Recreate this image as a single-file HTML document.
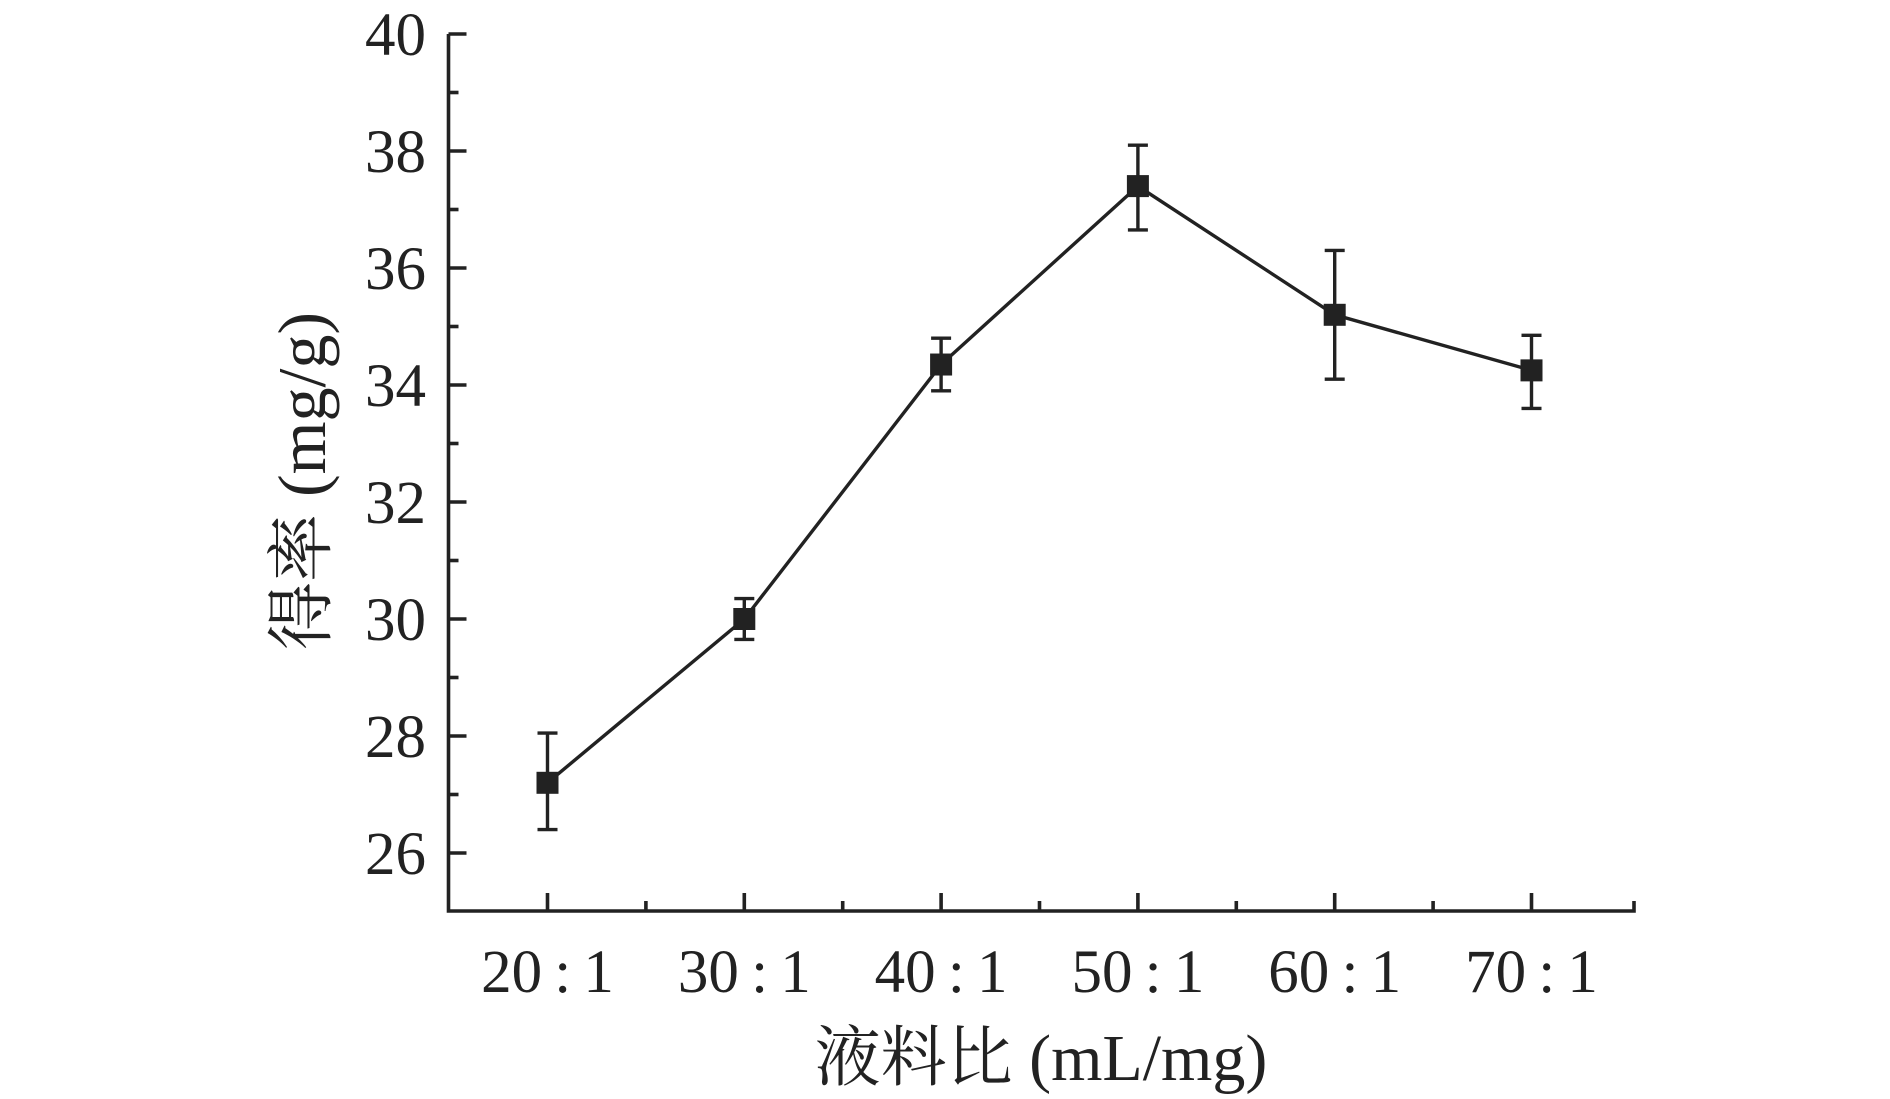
<!DOCTYPE html>
<html><head><meta charset="utf-8"><style>
html,body{margin:0;padding:0;background:#fff;}
svg text{font-family:"Liberation Serif","Noto Serif CJK SC",serif;fill:#222;}
</style></head><body>
<svg id="chart" width="1890" height="1094" viewBox="0 0 1890 1094"></svg>
<script>
const categories=["20\u2009:\u20091","30\u2009:\u20091","40\u2009:\u20091","50\u2009:\u20091","60\u2009:\u20091","70\u2009:\u20091"];
const yieldValues=[27.2,30.0,34.35,37.4,35.2,34.25];
const errLow=[26.4,29.65,33.9,36.65,34.1,33.6];
const errHigh=[28.05,30.35,34.8,38.1,36.3,34.85];
const yTicks=[26,28,30,32,34,36,38,40];

const NS="http://www.w3.org/2000/svg";
const svg=document.getElementById('chart');
const X0=448.5,XR=1634,YB=911;
function x(i){return 547.5+i*196.8;}
function y(v){return 853-(v-26)*(853-34)/14;}
function mk(t,a,p){const e=document.createElementNS(NS,t);for(const k in a)e.setAttribute(k,a[k]);(p||svg).appendChild(e);return e;}
const ax=mk('g',{stroke:'#222','stroke-width':3.6,fill:'none'});


mk('path',{d:`M${X0},${y(40)} V${YB} H${XR} V${YB-10}`},ax);
for(let v=26;v<=40;v+=1){
  const major=(v%2===0);
  const t=mk('line',{x1:X0,x2:X0+(major?18:10),y1:y(v),y2:y(v)},ax);
  
  
}
for(let i=0;i<categories.length;i++){
  const t=mk('line',{x1:x(i),x2:x(i),y1:YB,y2:YB-18},ax);
  
  
  if(i<categories.length-1){
    const m=mk('line',{x1:x(i+0.5),x2:x(i+0.5),y1:YB,y2:YB-10},ax);
    
    
  }
}
yTicks.forEach(v=>{
  const t=mk('text',{x:426,y:y(v)+21,'text-anchor':'end','font-size':61});
  t.textContent=v;
  
  
});
categories.forEach((c,i)=>{
  const t=mk('text',{x:x(i),y:992,'text-anchor':'middle','font-size':61});
  t.textContent=c;
  
  
});
const xt=mk('text',{x:1041,y:1080,'text-anchor':'middle','font-size':66});
xt.textContent='液料比 (mL/mg)';


const yt=mk('text',{x:0,y:0,'text-anchor':'middle','font-size':68,transform:'translate(325,481) rotate(-90)'});
yt.textContent='得率 (mg/g)';


const line=mk('polyline',{points:yieldValues.map((v,i)=>x(i)+','+y(v)).join(' '),fill:'none',stroke:'#222','stroke-width':3.4});


yieldValues.forEach((v,i)=>{
  const e=mk('path',{d:`M${x(i)},${y(errLow[i])} V${y(errHigh[i])} M${x(i)-10},${y(errLow[i])} H${x(i)+10} M${x(i)-10},${y(errHigh[i])} H${x(i)+10}`,stroke:'#222','stroke-width':3.4,fill:'none'});
  
  
  const r=mk('rect',{x:x(i)-11,y:y(v)-11,width:22,height:22,fill:'#222'});
  
  
});
</script>
</body></html>
